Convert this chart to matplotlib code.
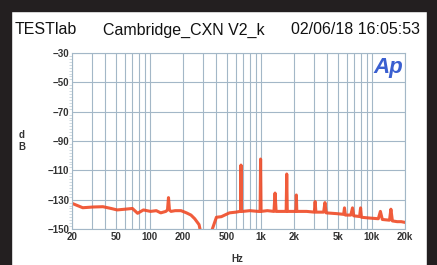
import matplotlib
matplotlib.use("Agg")
import matplotlib.pyplot as plt
from matplotlib.patches import Rectangle
from matplotlib.ticker import FixedLocator, NullFormatter, MultipleLocator

freq_hz = [20, 25, 31, 38, 45, 51, 60, 70, 78, 88, 102, 115, 126, 140, 145, 148, 151, 156, 170,
           192, 215, 236, 255, 279, 300, 330, 360, 400, 443, 524, 600, 650, 660, 666, 672, 690,
           800, 950, 990, 1000, 1010, 1150, 1320, 1350, 1380, 1650, 1700, 1720, 1740, 2050, 2080, 2100,
           2120, 2600, 3050, 3100, 3150, 3700, 3800, 3900, 4800, 5600, 5700, 5800, 6500, 6730,
           6900, 7800, 7960, 8100, 9500, 11500, 12000, 12500, 14500, 14930, 15400, 17000, 18500, 20000]
level_db = [-132.5, -135.5, -135, -134.8, -136, -137, -136.5, -136, -139.3, -137, -138, -137.5, -139, -138, -137, -128.6, -137, -138, -137.5,
            -137.5, -139, -140.5, -143, -147, -158, -158, -152, -142, -141.6, -139, -138.5, -138, -138, -106.4, -138, -138,
            -137.5, -138, -138, -102.3, -138, -137.5, -138, -125.5, -138, -138, -138, -112.5, -138, -138, -138, -126.8,
            -138, -138, -138.5, -131.3, -138.5, -138.5, -132, -139, -139.5, -140, -135.6, -140.5, -140.5, -135.6,
            -141, -141.5, -135.6, -142, -142.5, -143, -138, -143.5, -144, -136.5, -144.5, -145, -145, -145.5]

x_tick_values = [20, 50, 100, 200, 500, 1000, 2000, 5000, 10000, 20000]
x_tick_labels = ["20", "50", "100", "200", "500", "1k", "2k", "5k", "10k", "20k"]
y_tick_values = [-30, -50, -70, -90, -110, -130, -150]

W, H = 437, 265
fig = plt.figure(figsize=(W / 100, H / 100), dpi=100)
fig.patch.set_facecolor("white")
dark = "#231f20"
fig.patches.extend([
    Rectangle((0, 0), 11 / W, 1, transform=fig.transFigure, color=dark, zorder=0),
    Rectangle((0, 1 - 11 / H), 1, 11 / H, transform=fig.transFigure, color=dark, zorder=0),
    Rectangle((427 / W, 0), 10 / W, 1, transform=fig.transFigure, color=dark, zorder=0),
])

ax = fig.add_axes([72 / W, 1 - 229 / H, (405 - 72) / W, (229 - 53) / H])
ax.set_facecolor("white")
ax.set_xscale("log")
ax.set_xlim(20, 20000)
ax.set_ylim(-150, -30)

grid_c = "#a3b7c7"
minor_x = [m * 10 ** e for e in range(1, 5) for m in range(2, 10) if 20 <= m * 10 ** e <= 20000]
ax.xaxis.set_major_locator(FixedLocator(x_tick_values))
ax.set_xticklabels(x_tick_labels)
ax.xaxis.set_minor_locator(FixedLocator(minor_x))
ax.xaxis.set_minor_formatter(NullFormatter())
ax.grid(True, which="both", axis="x", color=grid_c, lw=0.8)
ax.set_yticks(y_tick_values)
ax.yaxis.set_minor_locator(MultipleLocator(2))
ax.grid(True, which="major", axis="y", color=grid_c, lw=0.8)
for s in ax.spines.values():
    s.set_color(grid_c)
    s.set_linewidth(0.8)
ax.tick_params(axis="both", which="major", length=0, labelsize=7, colors="#333333", pad=2)
ax.tick_params(axis="y", which="minor", length=2, color="#c8d4dc", width=0.6)
ax.tick_params(axis="x", which="minor", length=0)
for lab in ax.get_xticklabels() + ax.get_yticklabels():
    lab.set_fontfamily("Liberation Sans")
    lab.set_fontweight("bold")

ax.plot(freq_hz, level_db, color="#ef4a26", lw=2.2, alpha=0.9, solid_joinstyle="round")

ax.text(-0.15, 0.5, "d\nB", transform=ax.transAxes, ha="center", va="center",
        fontsize=7, fontweight="bold", color="#333333", family="Liberation Sans", linespacing=1.3)
fig.text(237 / W, 1 - 259 / H, "Hz", ha="center", va="center", fontsize=7,
         fontweight="bold", color="#333333", family="Liberation Sans")

fig.text(15 / W, 1 - 30 / H, "TESTlab", ha="left", va="center", fontsize=11.5,
         color="#111111", family="Liberation Sans")
fig.text(184 / W, 1 - 30 / H, "Cambridge_CXN V2_k", ha="center", va="center", fontsize=11.5,
         color="#111111", family="Liberation Sans")
fig.text(420 / W, 1 - 30 / H, "02/06/18 16:05:53", ha="right", va="center", fontsize=11.5,
         color="#111111", family="Liberation Sans")

fig.text(388 / W, 1 - 68 / H, "Ap", ha="center", va="center", fontsize=16, style="italic",
         fontweight="bold", color="#3a5fd0", family="Liberation Sans")

fig.savefig("out.png", dpi=100, facecolor="white")
